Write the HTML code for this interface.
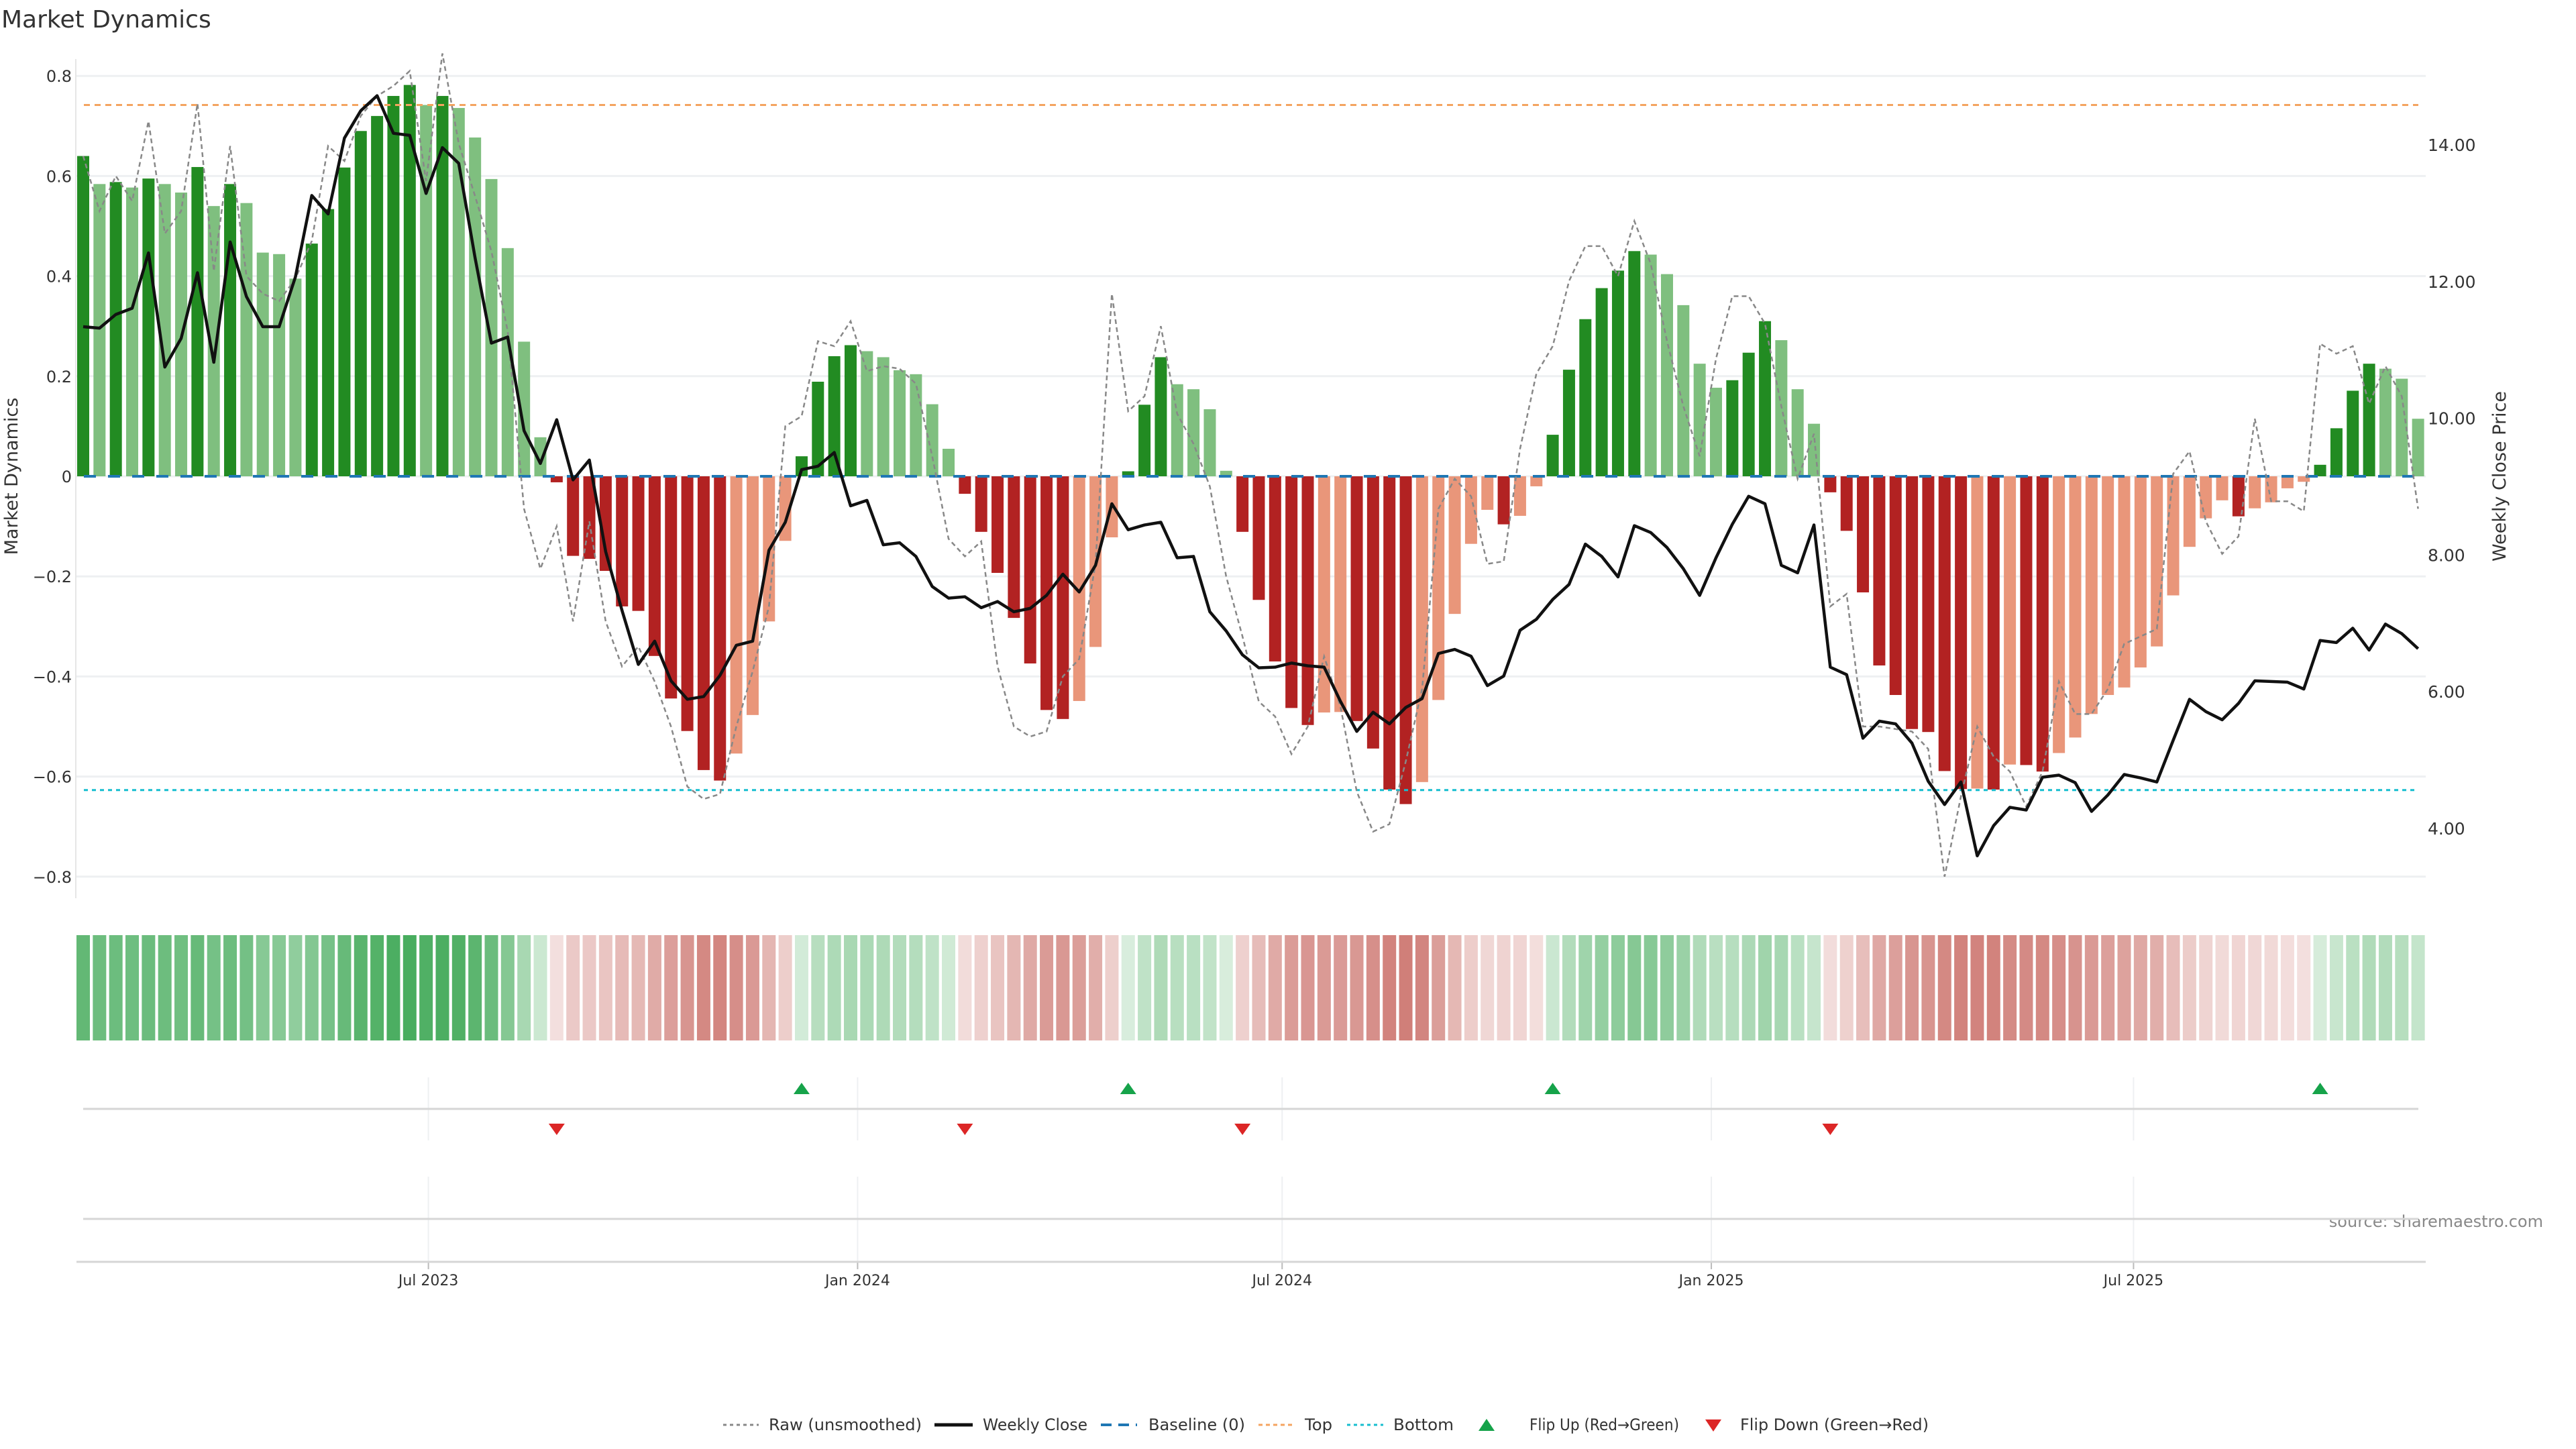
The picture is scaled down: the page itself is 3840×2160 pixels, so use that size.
<!DOCTYPE html>
<html><head><meta charset="utf-8"><title>Market Dynamics</title>
<style>html,body{margin:0;padding:0;background:#fff}svg{display:block}text{font-family:"DejaVu Sans","Liberation Sans",sans-serif}</style>
</head><body>
<svg id="chart" xmlns="http://www.w3.org/2000/svg" width="3840" height="2160" viewBox="0 0 3840 2160">
<text x="2" y="41" font-size="36" fill="#333">Market Dynamics</text>
<text transform="translate(26,710) rotate(-90)" text-anchor="middle" font-size="27" fill="#333">Market Dynamics</text>
<text transform="translate(3735,710) rotate(-90)" text-anchor="middle" font-size="27" fill="#333">Weekly Close Price</text>
<text x="3791" y="1829" text-anchor="end" font-size="24" fill="#888">source: sharemaestro.com</text>
<g id="layer"></g>
</svg>
<script>
const dynValues=[0.64,0.584,0.588,0.577,0.595,0.584,0.567,0.618,0.54,0.584,0.546,0.447,0.444,0.395,0.465,0.534,0.617,0.69,0.72,0.76,0.782,0.742,0.76,0.736,0.677,0.594,0.456,0.269,0.078,-0.012,-0.159,-0.165,-0.189,-0.26,-0.269,-0.359,-0.444,-0.509,-0.587,-0.608,-0.554,-0.477,-0.29,-0.129,0.04,0.189,0.24,0.262,0.25,0.238,0.212,0.204,0.144,0.055,-0.035,-0.111,-0.193,-0.283,-0.374,-0.467,-0.485,-0.449,-0.341,-0.122,0.01,0.143,0.238,0.184,0.174,0.134,0.011,-0.111,-0.247,-0.37,-0.463,-0.497,-0.472,-0.471,-0.489,-0.544,-0.626,-0.655,-0.611,-0.447,-0.275,-0.135,-0.067,-0.096,-0.079,-0.02,0.083,0.213,0.314,0.376,0.411,0.45,0.443,0.404,0.342,0.225,0.177,0.192,0.247,0.31,0.272,0.174,0.105,-0.032,-0.109,-0.232,-0.378,-0.437,-0.505,-0.511,-0.589,-0.625,-0.624,-0.626,-0.576,-0.577,-0.59,-0.553,-0.522,-0.475,-0.437,-0.422,-0.382,-0.34,-0.238,-0.141,-0.084,-0.048,-0.08,-0.064,-0.052,-0.024,-0.011,0.023,0.096,0.171,0.225,0.215,0.195,0.115];
const closeValues=[11.34,11.32,11.52,11.61,12.42,10.75,11.17,12.13,10.82,12.58,11.78,11.34,11.34,12.07,13.26,12.99,14.1,14.5,14.72,14.17,14.14,13.29,13.96,13.73,12.35,11.1,11.19,9.82,9.34,9.98,9.1,9.39,8.05,7.19,6.4,6.74,6.16,5.89,5.93,6.24,6.68,6.74,8.07,8.48,9.25,9.3,9.5,8.72,8.8,8.15,8.18,7.98,7.54,7.37,7.39,7.23,7.32,7.17,7.22,7.41,7.72,7.46,7.85,8.75,8.37,8.44,8.48,7.96,7.98,7.17,6.89,6.54,6.35,6.36,6.42,6.38,6.36,5.86,5.42,5.7,5.53,5.77,5.9,6.56,6.62,6.52,6.09,6.23,6.9,7.06,7.35,7.57,8.16,7.98,7.68,8.43,8.33,8.11,7.8,7.41,7.96,8.45,8.86,8.75,7.85,7.74,8.44,6.36,6.25,5.32,5.57,5.53,5.25,4.69,4.35,4.68,3.6,4.04,4.31,4.27,4.75,4.78,4.67,4.25,4.49,4.79,4.74,4.68,5.29,5.89,5.71,5.59,5.83,6.16,6.15,6.14,6.04,6.75,6.72,6.93,6.61,6.99,6.85,6.63];
const rawValues=[0.64,0.53,0.6,0.55,0.71,0.485,0.53,0.745,0.41,0.66,0.4,0.365,0.35,0.395,0.47,0.66,0.63,0.72,0.76,0.78,0.81,0.59,0.845,0.665,0.56,0.45,0.29,-0.065,-0.185,-0.1,-0.29,-0.09,-0.29,-0.38,-0.34,-0.41,-0.5,-0.62,-0.645,-0.635,-0.5,-0.39,-0.26,0.1,0.12,0.27,0.26,0.31,0.21,0.22,0.215,0.185,0.04,-0.125,-0.16,-0.13,-0.38,-0.5,-0.52,-0.51,-0.4,-0.365,-0.175,0.365,0.13,0.16,0.3,0.125,0.065,-0.02,-0.2,-0.32,-0.45,-0.48,-0.555,-0.5,-0.36,-0.46,-0.63,-0.71,-0.695,-0.57,-0.425,-0.065,-0.005,-0.04,-0.175,-0.17,0.055,0.205,0.26,0.39,0.46,0.46,0.4,0.51,0.425,0.27,0.14,0.04,0.235,0.36,0.36,0.305,0.14,-0.005,0.085,-0.26,-0.235,-0.5,-0.5,-0.505,-0.51,-0.545,-0.8,-0.64,-0.5,-0.56,-0.59,-0.66,-0.59,-0.41,-0.475,-0.475,-0.425,-0.335,-0.32,-0.305,0.005,0.05,-0.09,-0.155,-0.12,0.115,-0.05,-0.05,-0.07,0.265,0.245,0.26,0.145,0.22,0.16,-0.065];
const leftTicks=[0.8,0.6,0.4,0.2,0,-0.2,-0.4,-0.6,-0.8];
const leftTickLabels=["0.8","0.6","0.4","0.2","0","\u22120.2","\u22120.4","\u22120.6","\u22120.8"];
const rightTicks=[14,12,10,8,6,4];
const rightTickLabels=["14.00","12.00","10.00","8.00","6.00","4.00"];
const dateTicks=["2023-07-01","2024-01-01","2024-07-01","2025-01-01","2025-07-01"];
const dateTickLabels=["Jul 2023","Jan 2024","Jul 2024","Jan 2025","Jul 2025"];
const topLevel=0.742, bottomLevel=-0.627, startDate="2023-02-03";

const NS="http://www.w3.org/2000/svg";
const layer=document.getElementById('layer');
function mk(tag,attrs,parent){const e=document.createElementNS(NS,tag);for(const k in attrs)e.setAttribute(k,attrs[k]);(parent||layer).appendChild(e);return e;}
const yV=v=>710-v*746;
const yP=p=>216+(14-p)*101.9;
const xI=i=>124+i*24.34;
const d0=Date.parse(startDate);
const xD=s=>124+(Date.parse(s)-d0)/(7*86400000)*24.34;
const PL=113,PR=3616;

leftTicks.forEach((v,k)=>{
  const g=mk('line',{x1:PL,x2:PR,y1:yV(v),y2:yV(v),stroke:'#eef0f2','stroke-width':3});
  
  
  const t=mk('text',{x:107,y:yV(v)+9,'text-anchor':'end','font-size':24,fill:'#333'});
  t.textContent=leftTickLabels[k];
  
  
});
rightTicks.forEach((p,k)=>{
  const t=mk('text',{x:3619,y:yP(p)+9,'font-size':25,fill:'#333'});
  t.textContent=rightTickLabels[k];
  
  
});
const sp=mk('line',{x1:PL,x2:PL,y1:88,y2:1339,stroke:'#e6e6e6','stroke-width':2});



dynValues.forEach((v,i)=>{
  const prev=i>0?dynValues[i-1]:v;
  let col;
  if(v>=0) col=(i===0||v>=prev)?'#228b22':'#7fbf7f';
  else col=(v<prev)?'#b22222':'#e9967a';
  const y0=yV(0),y1=yV(v);
  const r=mk('rect',{x:xI(i)-9,y:Math.min(y0,y1),width:18,height:Math.max(1,Math.abs(y1-y0)),fill:col});
  
  
});
const tl=mk('line',{x1:PL+12,x2:3605,y1:yV(topLevel),y2:yV(topLevel),stroke:'#f4a460','stroke-width':3,'stroke-dasharray':'9 7'});


const bl=mk('line',{x1:PL+12,x2:3605,y1:yV(bottomLevel),y2:yV(bottomLevel),stroke:'#17becf','stroke-width':3,'stroke-dasharray':'6 6'});


const zl=mk('line',{x1:PL+12,x2:3605,y1:yV(0),y2:yV(0),stroke:'#1f77b4','stroke-width':4,'stroke-dasharray':'18 18'});


const rp=mk('polyline',{points:rawValues.map((v,i)=>xI(i)+','+yV(v)).join(' '),fill:'none',stroke:'#888','stroke-width':2.5,'stroke-dasharray':'7 5'});


const cp=mk('polyline',{points:closeValues.map((p,i)=>xI(i)+','+yP(p)).join(' '),fill:'none',stroke:'#111','stroke-width':4.5,'stroke-linejoin':'round'});



dynValues.forEach((v,i)=>{
  const a=Math.min(1,0.2+Math.abs(v));
  const base=v>=0?[69,171,91]:[200,105,98];
  const c=base.map(b=>Math.round(255-(255-b)*a));
  const r=mk('rect',{x:xI(i)-10,y:1394,width:20,height:157,fill:'rgb('+c.join(',')+')'});
  
  
});

dateTicks.forEach((d,k)=>{
  const x=xD(d);
  const g1=mk('line',{x1:x,x2:x,y1:1606,y2:1700,stroke:'#eef0f2','stroke-width':2});
  
  
  const g2=mk('line',{x1:x,x2:x,y1:1754,y2:1881,stroke:'#eef0f2','stroke-width':2});
  
  
  const tk=mk('line',{x1:x,x2:x,y1:1881,y2:1892,stroke:'#bbb','stroke-width':2});
  
  
  const t=mk('text',{x:x,y:1916,'text-anchor':'middle','font-size':22,fill:'#333'});
  t.textContent=dateTickLabels[k];
  
  
});
const h1=mk('line',{x1:124,x2:3605,y1:1653,y2:1653,stroke:'#d6d6d6','stroke-width':3});


const h2=mk('line',{x1:124,x2:3605,y1:1817,y2:1817,stroke:'#d6d6d6','stroke-width':3});


const h3=mk('line',{x1:114,x2:3616,y1:1881,y2:1881,stroke:'#d6d6d6','stroke-width':3});


dynValues.forEach((v,i)=>{
  if(i===0)return;
  const p=dynValues[i-1];
  const x=xI(i);
  if(p<0&&v>=0){
    const t=mk('polygon',{points:`${x-12},1631 ${x+12},1631 ${x},1614`,fill:'#16a34a'});
    
    
  } else if(p>=0&&v<0){
    const t=mk('polygon',{points:`${x-12},1675 ${x+12},1675 ${x},1692`,fill:'#dc2626'});
    
    
  }
});

const LY=2124;
function legText(x,s,w,name){const t=mk('text',{x:x,y:LY+8,'font-size':24,fill:'#333',textLength:w,lengthAdjust:'spacingAndGlyphs'});t.textContent=s;}
let e;
e=mk('line',{x1:1078,x2:1131,y1:LY,y2:LY,stroke:'#888','stroke-width':3,'stroke-dasharray':'5 5'});


legText(1146,'Raw (unsmoothed)',228,'legend-raw-label');
e=mk('line',{x1:1393,x2:1450,y1:LY,y2:LY,stroke:'#111','stroke-width':5});


legText(1465,'Weekly Close',156,'legend-close-label');
e=mk('line',{x1:1641,x2:1695,y1:LY,y2:LY,stroke:'#1f77b4','stroke-width':4,'stroke-dasharray':'16 10'});


legText(1712,'Baseline (0)',144,'legend-baseline-label');
e=mk('line',{x1:1876,x2:1930,y1:LY,y2:LY,stroke:'#f4a460','stroke-width':3,'stroke-dasharray':'6 5'});


legText(1945,'Top',41,'legend-top-label');
e=mk('line',{x1:2008,x2:2062,y1:LY,y2:LY,stroke:'#17becf','stroke-width':3,'stroke-dasharray':'5 5'});


legText(2077,'Bottom',90,'legend-bottom-label');
e=mk('polygon',{points:'2204,2133 2228,2133 2216,2115',fill:'#16a34a'});


legText(2280,'Flip Up (Red\u2192Green)',223,'legend-flip-up-label');
e=mk('polygon',{points:'2542,2116 2566,2116 2554,2134',fill:'#dc2626'});


legText(2594,'Flip Down (Green\u2192Red)',281,'legend-flip-down-label');
</script>
</body></html>
